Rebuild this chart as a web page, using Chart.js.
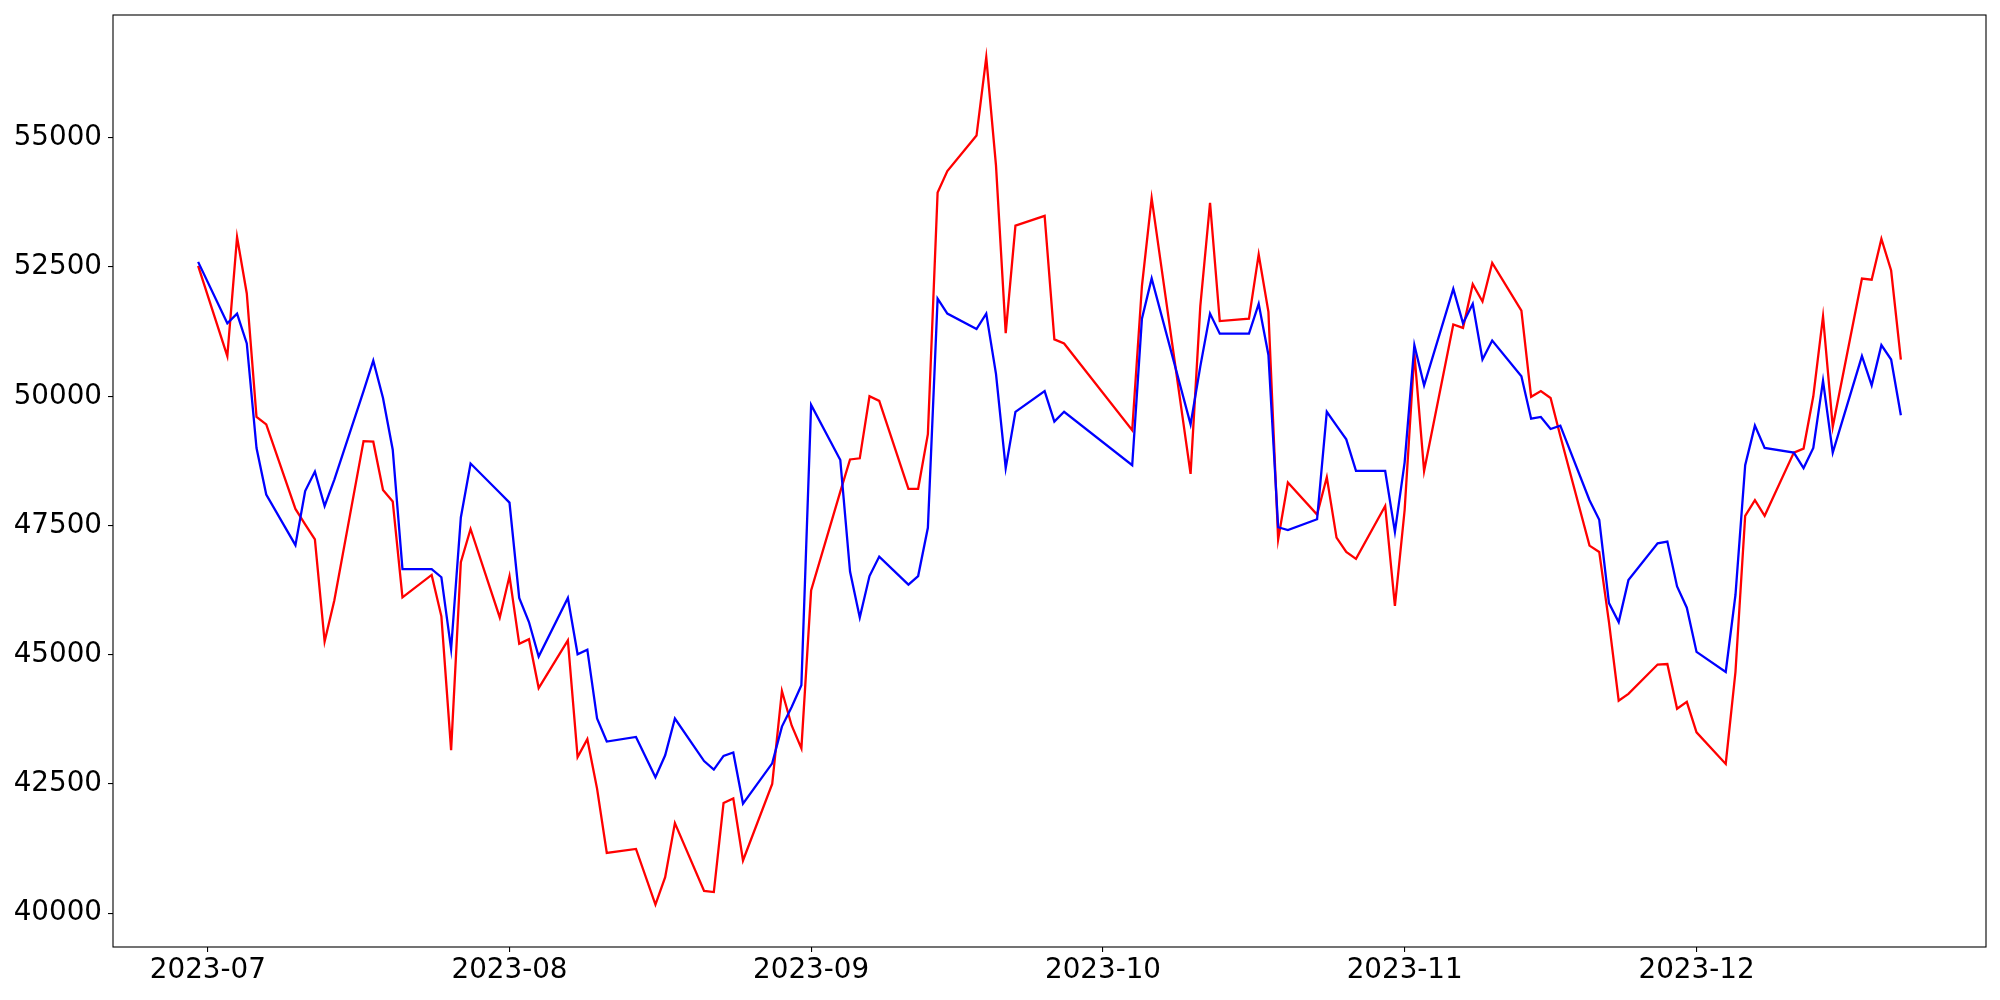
<!DOCTYPE html>
<html><head><meta charset="utf-8">
<script src="https://cdn.jsdelivr.net/npm/chart.js@4/dist/chart.umd.min.js"></script>
<style>html,body{margin:0;padding:0;background:#fff;} canvas{display:block;}</style>
</head><body>
<canvas id="c" width="2000" height="1000"></canvas>
<script>
const dates = [
 '2023-06-30','2023-07-03','2023-07-04','2023-07-05','2023-07-06','2023-07-07',
 '2023-07-10','2023-07-11','2023-07-12','2023-07-13','2023-07-14',
 '2023-07-17','2023-07-18','2023-07-19','2023-07-20','2023-07-21',
 '2023-07-24','2023-07-25','2023-07-26','2023-07-27','2023-07-28',
 '2023-07-31','2023-08-01','2023-08-02','2023-08-03','2023-08-04',
 '2023-08-07','2023-08-08','2023-08-09','2023-08-10','2023-08-11',
 '2023-08-14','2023-08-16','2023-08-17','2023-08-18',
 '2023-08-21','2023-08-22','2023-08-23','2023-08-24','2023-08-25',
 '2023-08-28','2023-08-29','2023-08-30','2023-08-31','2023-09-01',
 '2023-09-04','2023-09-05','2023-09-06','2023-09-07','2023-09-08',
 '2023-09-11','2023-09-12','2023-09-13','2023-09-14','2023-09-15',
 '2023-09-18','2023-09-19','2023-09-20','2023-09-21','2023-09-22',
 '2023-09-25','2023-09-26','2023-09-27',
 '2023-10-04','2023-10-05','2023-10-06',
 '2023-10-10','2023-10-11','2023-10-12','2023-10-13',
 '2023-10-16','2023-10-17','2023-10-18','2023-10-19','2023-10-20',
 '2023-10-23','2023-10-24','2023-10-25','2023-10-26','2023-10-27',
 '2023-10-30','2023-10-31','2023-11-01','2023-11-02','2023-11-03',
 '2023-11-06','2023-11-07','2023-11-08','2023-11-09','2023-11-10',
 '2023-11-13','2023-11-14','2023-11-15','2023-11-16','2023-11-17',
 '2023-11-20','2023-11-21','2023-11-22','2023-11-23','2023-11-24',
 '2023-11-27','2023-11-28','2023-11-29','2023-11-30','2023-12-01',
 '2023-12-04','2023-12-05','2023-12-06','2023-12-07','2023-12-08',
 '2023-12-11','2023-12-12','2023-12-13','2023-12-14','2023-12-15',
 '2023-12-18','2023-12-19','2023-12-20','2023-12-21','2023-12-22'
];
const blueSeries = [
 52600,51411,51600,51022,49000,48100,
 47122,48167,48544,47878,48389,
 50100,50689,49967,48967,46656,
 46656,46500,45111,47656,48700,
 48133,47944,46100,45633,44967,
 46100,45011,45100,43767,43322,
 43411,42633,43056,43767,
 42944,42778,43044,43111,42122,
 42900,43611,43989,44411,49833,
 48767,46611,45722,46522,46900,
 46356,46522,47456,51889,51600,
 51300,51600,50433,48611,49700,
 50100,49511,49700,
 48667,51500,52278,
 49456,50578,51600,51211,
 51211,51789,50800,47467,47411,
 47622,49700,49433,49167,48556,
 48556,47378,48722,50989,50211,
 52078,51411,51789,50711,51078,
 50389,49567,49600,49367,49433,
 47989,47611,46000,45633,46444,
 47156,47189,46322,45911,45056,
 44667,46156,48667,49433,49000,
 48911,48611,49000,50300,48911,
 50778,50211,50989,50711,49633
];
const redSeries = [
 52522,50778,53078,51989,49600,49456,
 47822,47522,47233,45256,46056,
 49133,49122,48189,47967,46111,
 46544,45744,43156,46789,47433,
 45722,46522,45211,45300,44356,
 45278,43022,43367,42411,41167,
 41244,40167,40700,41744,
 40433,40411,42133,42222,41022,
 42500,44300,43633,43189,46244,
 48156,48778,48800,50000,49911,
 48211,48211,49267,53944,54356,
 55044,56556,54467,51222,53300,
 53489,51100,51022,
 49344,52133,53833,
 48500,51744,53744,51456,
 51500,52744,51633,47233,48333,
 47711,48433,47267,46989,46856,
 47878,45944,47800,50833,48556,
 51389,51322,52167,51833,52578,
 51656,49989,50100,49967,49233,
 47111,46989,45633,44111,44244,
 44811,44822,43956,44089,43500,
 42889,44667,47689,47989,47689,
 48911,48989,50000,51544,49411,
 52278,52256,53044,52433,50711
];
const xTickDates = ['2023-07-01','2023-08-01','2023-09-01','2023-10-01','2023-11-01','2023-12-01'];
const xTickLabels = ['2023-07','2023-08','2023-09','2023-10','2023-11','2023-12'];
const yTickValues = [40000,42500,45000,47500,50000,52500,55000];

const DAY = 86400000;
const toDay = s => Date.UTC(+s.slice(0,4), +s.slice(5,7)-1, +s.slice(8,10)) / DAY;
const xs = dates.map(toDay);
const mk = vals => vals.map((v,i) => ({x: xs[i], y: v}));

const xMinD = Math.min(...xs), xMaxD = Math.max(...xs);
const xPad = (xMaxD - xMinD) * 0.05;
const allV = blueSeries.concat(redSeries);
const yMinD = Math.min(...allV), yMaxD = Math.max(...allV);
const yPad = (yMaxD - yMinD) * 0.05;

Chart.defaults.font.family = 'DejaVu Sans';
Chart.defaults.font.size = 27.78;
Chart.defaults.color = '#000';

const frame = {
  id: 'frame',
  afterDatasetsDraw(chart) {
    const a = chart.chartArea, ctx = chart.ctx;
    ctx.save();
    ctx.strokeStyle = '#000';
    ctx.lineWidth = 1.1;
    ctx.strokeRect(a.left, a.top, a.right - a.left, a.bottom - a.top);
    ctx.restore();
  }
};

new Chart(document.getElementById('c'), {
  type: 'line',
  data: {
    datasets: [
      {data: mk(blueSeries), borderColor: '#0000ff', borderWidth: 2.3, pointRadius: 0, tension: 0, fill: false},
      {data: mk(redSeries), borderColor: '#ff0000', borderWidth: 2.3, pointRadius: 0, tension: 0, fill: false}
    ]
  },
  options: {
    responsive: false,
    animation: false,
    devicePixelRatio: 1,
    layout: {padding: {left: 0, top: 15, right: 14, bottom: 0}},
    plugins: {legend: {display: false}, tooltip: {enabled: false}, title: {display: false}},
    scales: {
      x: {
        type: 'linear',
        min: xMinD - xPad,
        max: xMaxD + xPad,
        afterBuildTicks: s => { s.ticks = xTickDates.map(d => ({value: toDay(d)})); },
        afterFit: s => { s.height = 53; s.paddingLeft = 0; s.paddingRight = 0; },
        ticks: {autoSkip: false, maxRotation: 0, padding: 2,
                callback: (v, i) => xTickLabels[i]},
        grid: {display: true, drawOnChartArea: false, drawTicks: true, tickLength: 5, color: '#000', lineWidth: 1.1},
        border: {display: false}
      },
      y: {
        type: 'linear',
        min: yMinD - yPad,
        max: yMaxD + yPad,
        afterBuildTicks: s => { s.ticks = yTickValues.map(v => ({value: v})); },
        afterFit: s => { s.width = 113; s.paddingTop = 0; s.paddingBottom = 0; },
        ticks: {autoSkip: false, padding: 6, callback: v => String(v)},
        grid: {display: true, drawOnChartArea: false, drawTicks: true, tickLength: 5, color: '#000', lineWidth: 1.1},
        border: {display: false}
      }
    }
  },
  plugins: [frame]
});
</script>
</body></html>
